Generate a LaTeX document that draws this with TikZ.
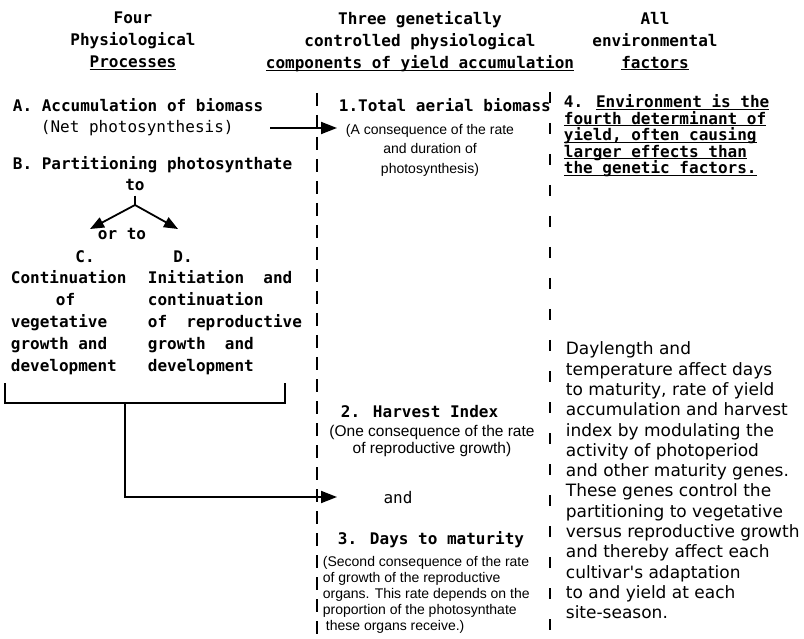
\documentclass[tikz,border=0pt]{standalone}
\usepackage{fontspec}
\setmainfont{DejaVu Sans Mono}
\newfontfamily\notefont{Liberation Sans}
\newfontfamily\envfont{DejaVu Sans}
\usetikzlibrary{arrows.meta}
\newcommand\baseul[1]{\underline{\smash{#1}}}

\begin{document}
\begin{tikzpicture}[x=1pt,y=-1pt,>={Triangle[length=16pt,width=12pt]},
                    line width=1.8pt]
  \tikzstyle{every node}=[inner sep=0pt]
  \tikzstyle{head}=[align=center,anchor=north,font=\bfseries\fontsize{16}{22}\selectfont]
  \tikzstyle{proc}=[anchor=west,font=\bfseries\fontsize{16}{20}\selectfont]
  \tikzstyle{part}=[align=left,anchor=north west,font=\bfseries\fontsize{16}{22}\selectfont]
  \tikzstyle{note}=[align=center,font=\notefont\fontsize{14}{19.5}\selectfont]
  \tikzstyle{axisA}=[dash pattern=on 13pt off 9pt,line width=2.2pt]
  \tikzstyle{axisB}=[dash pattern=on 11pt off 20pt,line width=2.2pt]
  \tikzstyle{fork arrow}=[->,>={Triangle[length=14pt,width=11pt]}]

  \useasboundingbox (0,0) rectangle (804,639);

  % column heads
  \node[head] (hproc) at (133,11) {Four\\Physiological\\\baseul{Processes}};
  \node[head] (hcomp) at (420,11) {Three genetically\\controlled physiological\\\baseul{components of yield accumulation}};
  \node[head] (henv)  at (655,11) {All\\environmental\\\baseul{factors}};

  % four processes
  \node[proc] (A)     at (12,105) {A. Accumulation of biomass};
  \node[proc,font=\fontsize{16}{20}\selectfont] (netps) at (40,128) {(Net photosynthesis)};
  \node[proc] (B)     at (12,165) {B. Partitioning photosynthate};
  \node[proc,anchor=center] (to)   at (135,185) {to};
  \node[proc,anchor=center] (orto) at (122,234) {or to};
  \node[proc,anchor=center] (C)    at (85,257)  {C.};
  \node[proc,anchor=center] (D)    at (183,257) {D.};
  \node[part] (Ctext) at (10,270)  {Continuation\\\hspace*{45pt}of\\vegetative\\growth and\\development};
  \node[part] (Dtext) at (147,270) {Initiation\ \ and\\continuation\\of\ \ reproductive\\growth\ \ and\\development};

  \coordinate (fork)  at (135,205);
  \coordinate (forkL) at (90,229);
  \coordinate (forkR) at (178,229);
  \draw[shorten <=4pt] (to.south) -- (fork);
  \draw[fork arrow] (fork) -- (forkL);
  \draw[fork arrow] (fork) -- (forkR);

  % bracket under C and D
  \coordinate (brL)  at (5,383);
  \coordinate (brLb) at (5,403);
  \coordinate (brRb) at (285,403);
  \coordinate (brR)  at (285,383);
  \coordinate (brM)  at (125,403);
  \coordinate (elbow) at (125,497);
  \coordinate (tipB) at (337,497);
  \draw (brL) -- (brLb) -- (brRb) -- (brR);
  \draw[->] (brM) -- (elbow) -- (tipB);

  \coordinate (tailA) at (270,128);
  \coordinate (tipA)  at (337,128);
  \draw[->] (tailA) -- (tipA);

  % three components
  \node[proc] (tot) at (338,105) {1.Total aerial biomass};
  \node[note,anchor=north] (cons1) at (430,123) {(A consequence of the rate\\and duration of\\photosynthesis)};
  \node[proc] (hi) at (340,412) {2. Harvest Index};
  \node[note,anchor=north,font=\notefont\fontsize{15.5}{17}\selectfont] (cons2) at (432,424)
       {(One consequence of the rate\\of reproductive growth)};
  \node[proc,anchor=center,font=\fontsize{16}{20}\selectfont] (andn) at (398,498) {and};
  \node[proc] (dtm) at (337,540) {3. Days to maturity};
  \node[note,align=left,anchor=north west,font=\notefont\fontsize{14}{16.2}\selectfont] (cons3) at (322,555)
       {(Second consequence of the rate\\of growth of the reproductive\\organs. This rate depends on the\\proportion of the photosynthate\\\hspace*{3pt}these organs receive.)};

  % environment
  \node[part,font=\bfseries\fontsize{16}{16.5}\selectfont] (env) at (563,95)
       {4. \baseul{Environment is the}\\\baseul{fourth determinant of}\\\baseul{yield, often causing}\\\baseul{larger effects than}\\\baseul{the genetic factors.}};
  \node[part,font=\envfont\fontsize{17}{20.3}\selectfont] (day) at (565,341)
       {Daylength and\\temperature affect days\\to maturity, rate of yield\\accumulation and harvest\\index by modulating the\\activity of photoperiod\\and other maturity genes.\\These genes control the\\partitioning to vegetative\\versus reproductive growth\\and thereby affect each\\cultivar's adaptation\\to and yield at each\\site-season.};

  % dividing lines
  \coordinate (d1top) at (317,93);
  \coordinate (d1bot) at (317,634);
  \coordinate (d2top) at (550,92);
  \coordinate (d2bot) at (550,634);
  \draw[axisA] (d1top) -- (d1bot);
  \draw[axisB] (d2top) -- (d2bot);
\end{tikzpicture}
\end{document}
